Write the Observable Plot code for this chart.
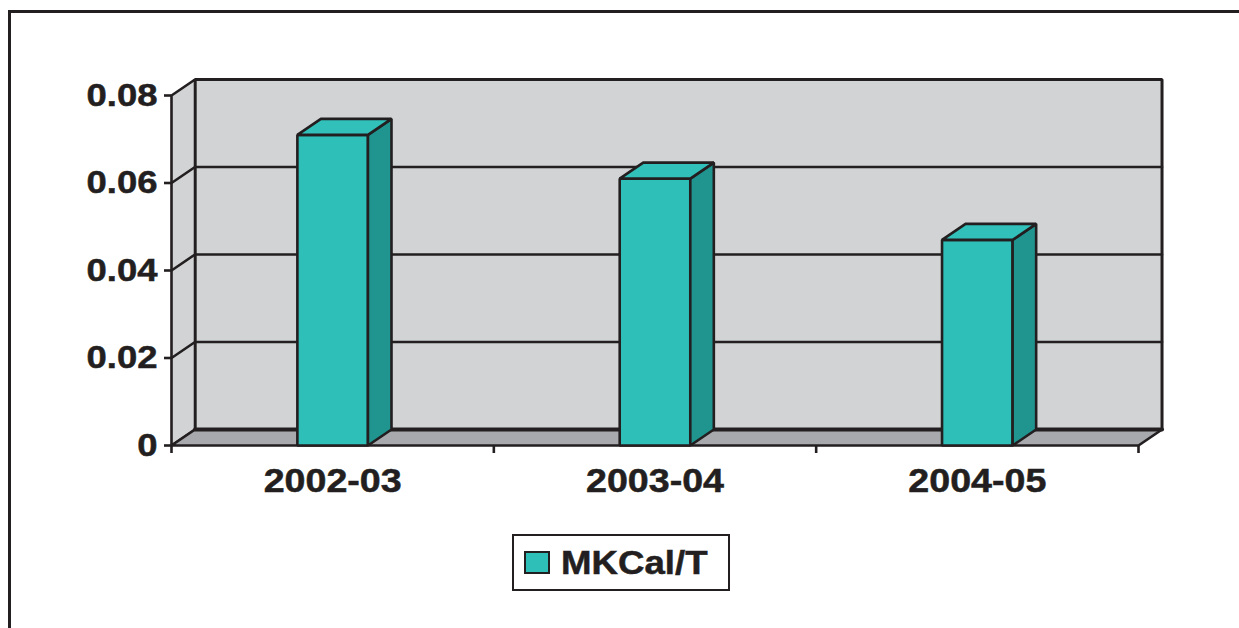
<!DOCTYPE html>
<html>
<head>
<meta charset="utf-8">
<script src="https://cdn.jsdelivr.net/npm/d3@7"></script>
<script src="https://cdn.jsdelivr.net/npm/@observablehq/plot@0.6"></script>
<style>
  html, body { margin: 0; padding: 0; background: #ffffff; overflow: hidden; }
  body { width: 1239px; height: 628px; position: relative; font-family: "Liberation Sans", Arial, sans-serif; }
  #frame {
    position: absolute; left: 8px; top: 10px; right: -20px; bottom: -20px;
    border-left: 3px solid #231f20; border-top: 3px solid #231f20;
    pointer-events: none; z-index: 2;
  }
  #chart svg { display: block; background: transparent; }
  #chart svg g[aria-label="y-axis tick label"],
  #chart svg g[aria-label="x-axis tick label"] { stroke: #231f20; stroke-width: 0.5px; }
  #legend {
    margin: 14px 0 0 512px;
    width: 218px; height: 57px; box-sizing: border-box;
    border: 2.5px solid #231f20;
    display: flex; align-items: center;
  }
  #legend .swatch {
    width: 26px; height: 23px; box-sizing: border-box;
    margin-left: 10px; margin-right: 11px;
    background: #2fbfb9; border: 2.5px solid #231f20;
  }
  #legend .label {
    font-size: 33px; font-weight: bold; color: #231f20;
    -webkit-text-stroke: 0.5px #231f20;
    transform: scaleX(1.11); transform-origin: left center;
  }
</style>
</head>
<body>
<div id="frame"></div>
<div id="chart"></div>
<div id="legend"><div class="swatch"></div><div class="label"></div></div>
<script>
// Fuel consumption per tonne, by year
const categories = ["2002-03", "2003-04", "2004-05"];
const values = [0.071, 0.061, 0.047];
const yTicks = [0, 0.02, 0.04, 0.06, 0.08];
const seriesName = "MKCal/T";

const ink = "#231f20";
const wallColor = "#d1d3d4";
const floorColor = "#a7a9ac";
const barFront = "#2fbfb9";
const barSide = "#20948f";
const barTop = "#32c1ba";

// 3-D look: depth of the walls and columns, in scale units
const n = categories.length;
const yMax = yTicks[yTicks.length - 1];
const depthX = 0.073;
const depthY = 0.00366;
const barWidth = 0.219;

const toRows = (polys) => polys.flatMap(({id, pts}) => pts.map(([x, y]) => ({id, x, y})));

const backWall = toRows([{id: "back", pts: [[depthX, depthY], [n + depthX, depthY], [n + depthX, yMax + depthY], [depthX, yMax + depthY]]}]);
const sideWall = toRows([{id: "side", pts: [[0, 0], [depthX, depthY], [depthX, yMax + depthY], [0, yMax]]}]);
const floor = toRows([{id: "floor", pts: [[0, 0], [n, 0], [n + depthX, depthY], [depthX, depthY]]}]);

const gridRows = yTicks.slice(1, -1).flatMap((v) => [
  {id: v, x: 0, y: v},
  {id: v, x: depthX, y: v + depthY},
  {id: v, x: n + depthX, y: v + depthY}
]);

const fronts = [], sides = [], tops = [];
values.forEach((v, i) => {
  const x0 = i + 0.5 - barWidth / 2, x1 = i + 0.5 + barWidth / 2;
  fronts.push({id: i, pts: [[x0, 0], [x1, 0], [x1, v], [x0, v]]});
  sides.push({id: i, pts: [[x1, 0], [x1 + depthX, depthY], [x1 + depthX, v + depthY], [x1, v]]});
  tops.push({id: i, pts: [[x0, v], [x1, v], [x1 + depthX, v + depthY], [x0 + depthX, v + depthY]]});
});

const face = (rows, fill, sw = 2.6) => Plot.line(rows, {
  x: "x", y: "y", z: "id", fill, stroke: ink, strokeWidth: sw,
  curve: "linear-closed", strokeLinejoin: "miter"
});

const chart = Plot.plot({
  width: 1239,
  height: 520,
  marginLeft: 171,
  marginRight: 101,
  marginTop: 95,
  marginBottom: 75,
  style: {fontFamily: "'Liberation Sans', Arial, sans-serif", background: "transparent", overflow: "visible"},
  x: {type: "linear", domain: [0, n]},
  y: {domain: [0, yMax]},
  marks: [
    face(backWall, wallColor, 3),
    face(sideWall, wallColor, 2.6),
    face(floor, floorColor, 2.6),
    Plot.line(gridRows, {x: "x", y: "y", z: "id", stroke: ink, strokeWidth: 2.6}),
    Plot.line([{x: depthX, y: depthY}, {x: n + depthX, y: depthY}], {x: "x", y: "y", stroke: ink, strokeWidth: 4}),
    face(toRows(fronts), barFront),
    face(toRows(sides), barSide),
    face(toRows(tops), barTop),
    Plot.axisY({
      ticks: yTicks,
      tickFormat: (d) => (d === 0 ? "0" : d.toFixed(2)),
      tickSize: 7, tickPadding: 7, strokeWidth: 2.6,
      fontSize: 32, fontWeight: "bold", color: ink, label: null
    }),
    Plot.axisX({
      ticks: d3.range(n + 1), tickFormat: () => "",
      tickSize: 8, strokeWidth: 2.6, color: ink, label: null
    }),
    Plot.axisX({
      ticks: categories.map((_, i) => i + 0.5),
      tickFormat: (d) => categories[Math.floor(d)],
      tickSize: 0, tickPadding: 23,
      fontSize: 33, fontWeight: "bold", color: ink, label: null
    })
  ]
});

// Widen the bold tick labels about their anchor point
chart.querySelectorAll('g[aria-label="y-axis tick label"] text, g[aria-label="x-axis tick label"] text').forEach((t) => {
  const tr = t.getAttribute("transform") || "";
  t.setAttribute("transform", `${tr} scale(1.14,1)`);
});

document.getElementById("chart").append(chart);
document.querySelector("#legend .label").textContent = seriesName;
</script>
</body>
</html>
